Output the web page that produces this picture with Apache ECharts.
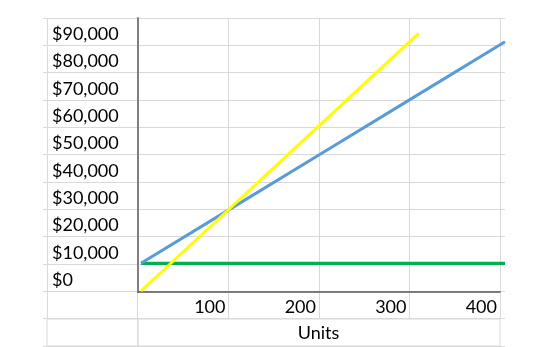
<!DOCTYPE html>
<html>
<head>
<meta charset="utf-8">
<script src="https://cdn.jsdelivr.net/npm/echarts@6/dist/echarts.min.js"></script>
<style>
html,body{margin:0;padding:0;background:#fff;}
#chart{width:560px;height:347px;}
</style>
</head>
<body>
<div id="chart"></div>
<script>
// ---- data ----
const units = [0, 100, 200, 300, 400];
const fixedCost = [10000, 10000, 10000, 10000, 10000];
const totalCost = [10000, 30000, 50000, 70000, 90000];
const revenueUnits = [0, 100, 200, 300, 305];
const revenue = [0, 30500, 61000, 91500, 93000];
const yTickLabels = ['$90,000', '$80,000', '$70,000', '$60,000', '$50,000', '$40,000', '$30,000', '$20,000', '$10,000', '$0'];
const xTickLabels = ['100', '200', '300', '400'];
const xTitle = 'Units';

const FONT = 'Lato';
const TXT = '#000000';
const GRID_C = '#d9d9d9';
const pairs = (xs, ys) => xs.map((x, i) => [x, ys[i]]);
const hiddenAxis = (extra) => Object.assign({
  type: 'value', show: false, min: 0, max: 1,
  axisLine: {show: false}, axisTick: {show: false}, axisLabel: {show: false}, splitLine: {show: false}
}, extra || {});

const chart = echarts.init(document.getElementById('chart'), null, {renderer: 'canvas'});
chart.setOption({
  animation: false,
  backgroundColor: '#ffffff',
  grid: [
    {left: 43, top: 18, width: 462, height: 328},              // 0 horizontal cell lines
    {left: 47, top: 18, width: 453, height: 301},              // 1 vertical cell lines
    {left: 47, top: 319, width: 91, height: 27, show: true, borderColor: GRID_C, borderWidth: 1, backgroundColor: 'transparent'}, // 2
    {left: 138, top: 319, width: 362, height: 27, show: true, borderColor: GRID_C, borderWidth: 1, backgroundColor: 'transparent'}, // 3
    {left: 47, top: 20.5, width: 91, height: 273.3},           // 4 y labels
    {left: 138, top: 18, width: 362, height: 274},             // 5 frame axes + x labels
    {left: 141, top: 14, width: 364, height: 277.5}            // 6 data
  ],
  xAxis: [
    hiddenAxis({gridIndex: 0}),
    {gridIndex: 1, type: 'value', min: 0, max: 5, interval: 1,
      axisLine: {show: false}, axisTick: {show: false}, axisLabel: {show: false},
      splitLine: {show: true, lineStyle: {color: GRID_C, width: 1}}},
    hiddenAxis({gridIndex: 2}),
    hiddenAxis({gridIndex: 3}),
    hiddenAxis({gridIndex: 4}),
    {gridIndex: 5, type: 'value', min: 0, max: 4, interval: 1, z: 3,
      axisLine: {show: true, onZero: false, lineStyle: {color: '#555555', width: 1.5}},
      axisTick: {show: false}, splitLine: {show: false},
      axisLabel: {show: true, margin: 6, align: 'right', padding: [0, 3, 0, 0],
        color: TXT, fontFamily: FONT, fontSize: 18,
        showMinLabel: true, showMaxLabel: true,
        formatter: (v) => xTickLabels[Math.round(v) - 1] || ''}},
    {gridIndex: 6, type: 'value', min: 0, max: 400, show: true,
      axisLine: {show: false}, axisTick: {show: false}, axisLabel: {show: false}, splitLine: {show: false},
      name: xTitle, nameLocation: 'middle', nameGap: 33,
      nameTextStyle: {color: TXT, fontFamily: FONT, fontSize: 18, padding: [0, 9, 0, 0]}}
  ],
  yAxis: [
    {gridIndex: 0, type: 'value', min: 0, max: 12, interval: 1,
      axisLine: {show: false}, axisTick: {show: false}, axisLabel: {show: false},
      splitLine: {show: true, lineStyle: {color: GRID_C, width: 1}}},
    hiddenAxis({gridIndex: 1}),
    hiddenAxis({gridIndex: 2}),
    hiddenAxis({gridIndex: 3}),
    {gridIndex: 4, type: 'category', inverse: true, data: yTickLabels, boundaryGap: true,
      axisLine: {show: false}, axisTick: {show: false}, splitLine: {show: false},
      axisLabel: {show: true, inside: true, interval: 0, margin: 5, align: 'left',
        color: TXT, fontFamily: FONT, fontSize: 18}},
    {gridIndex: 5, type: 'value', min: 0, max: 1, z: 3,
      axisLine: {show: true, onZero: false, lineStyle: {color: '#808080', width: 2}},
      axisTick: {show: false}, axisLabel: {show: false}, splitLine: {show: false}},
    {gridIndex: 6, type: 'value', min: 0, max: 100000, show: false,
      axisLine: {show: false}, axisTick: {show: false}, axisLabel: {show: false}, splitLine: {show: false}}
  ],
  series: [
    {name: 'Fixed Cost', type: 'line', xAxisIndex: 6, yAxisIndex: 6, data: pairs(units, fixedCost),
      showSymbol: false, z: 3, lineStyle: {color: '#00B050', width: 3.2}},
    {name: 'Total Cost', type: 'line', xAxisIndex: 6, yAxisIndex: 6, data: pairs(units, totalCost),
      showSymbol: false, z: 4, lineStyle: {color: '#5B9BD5', width: 3}},
    {name: 'Revenue', type: 'line', xAxisIndex: 6, yAxisIndex: 6, data: pairs(revenueUnits, revenue),
      showSymbol: false, z: 5, lineStyle: {color: '#FFFF00', width: 3}}
  ]
});
</script>
</body>
</html>
